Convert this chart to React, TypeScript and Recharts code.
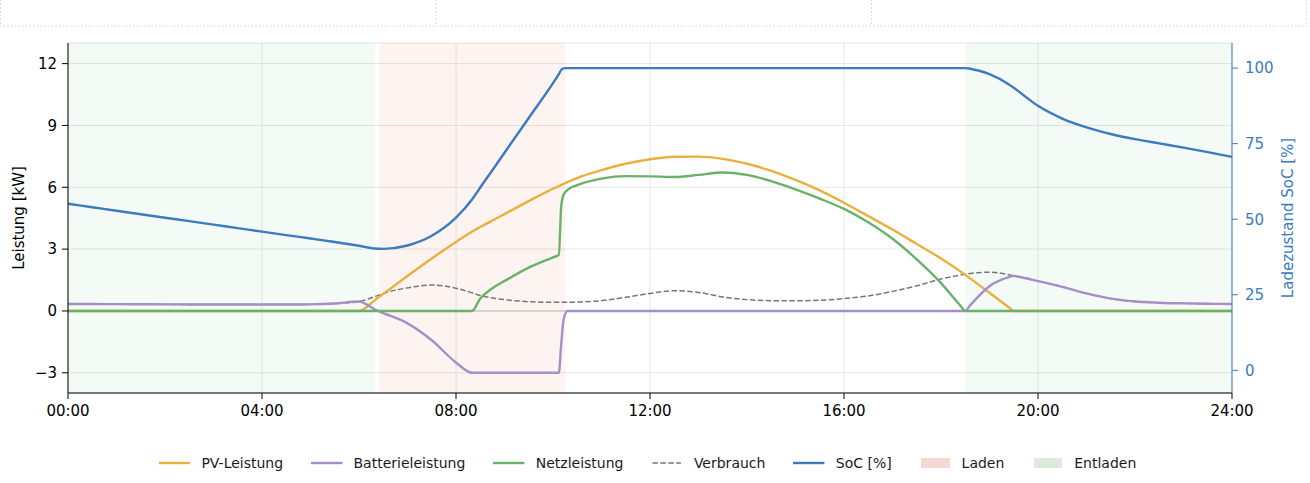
import { LineChart, Line, XAxis, YAxis, CartesianGrid, ReferenceArea, ReferenceLine } from 'recharts';

// Tagesverlauf (Stunden) und Messreihen
const hours = [
  0, 0.5, 1, 1.5, 2, 2.5, 3, 3.5, 4, 4.5, 5, 5.5, 6,
  6.33, 6.5, 7, 7.5, 8, 8.33, 8.5, 8.75, 9, 9.5, 10, 10.12, 10.17, 10.22, 10.3,
  10.5, 11, 11.5, 12, 12.5, 13, 13.5, 14, 14.5, 15, 15.5, 16, 16.5, 17, 17.5, 18,
  18.4, 18.5, 18.6, 19, 19.4, 19.5, 19.6,
  20, 20.5, 21, 21.5, 22, 22.5, 23, 23.5, 24,
];

const pvPower = [
  0, 0, 0, 0, 0, 0, 0, 0, 0, 0, 0, 0, 0,
  0.53, 0.83, 1.7, 2.55, 3.35, 3.84, 4.07, 4.39, 4.7, 5.33, 5.93, 6.06, 6.115, 6.17, 6.25,
  6.45, 6.83, 7.14, 7.36, 7.48, 7.49, 7.38, 7.14, 6.8, 6.36, 5.85, 5.25, 4.6, 3.95, 3.25, 2.55,
  1.92, 1.75, 1.58, 0.88, 0.17, 0, 0,
  0, 0, 0, 0, 0, 0, 0, 0, 0,
];

const batteryPower = [
  0.34, 0.335, 0.33, 0.325, 0.32, 0.315, 0.31, 0.31, 0.31, 0.315, 0.32, 0.36, 0.46,
  0.07, -0.1, -0.6, -1.42, -2.5, -3, -3, -3, -3, -3, -3, -3, -1.6, -0.4, 0,
  0, 0, 0, 0, 0, 0, 0, 0, 0, 0, 0, 0, 0, 0, 0, 0,
  0, 0, 0.27, 1.2, 1.64, 1.7, 1.66,
  1.45, 1.17, 0.85, 0.6, 0.46, 0.4, 0.37, 0.35, 0.34,
];

const gridPower = [
  0, 0, 0, 0, 0, 0, 0, 0, 0, 0, 0, 0, 0,
  0, 0, 0, 0, 0, 0, 0.6, 1.1, 1.45, 2.1, 2.6, 2.72, 5.1, 5.65, 5.87,
  6.1, 6.42, 6.54, 6.53, 6.5, 6.6, 6.72, 6.6, 6.3, 5.9, 5.45, 4.95, 4.3, 3.5, 2.5, 1.35,
  0.26, 0, 0, 0, 0, 0, 0,
  0, 0, 0, 0, 0, 0, 0, 0, 0,
];

const consumption = [
  0.34, 0.335, 0.33, 0.325, 0.32, 0.315, 0.31, 0.31, 0.31, 0.315, 0.32, 0.36, 0.46,
  0.7, 0.85, 1.12, 1.26, 1.1, 0.88, 0.75, 0.63, 0.55, 0.45, 0.42, 0.42, 0.42, 0.42, 0.42,
  0.43, 0.5, 0.66, 0.85, 0.98, 0.9, 0.68, 0.55, 0.5, 0.49, 0.52, 0.6, 0.73, 0.95, 1.22, 1.55,
  1.74, 1.78, 1.82, 1.88, 1.76, 1.7, 1.66,
  1.45, 1.17, 0.85, 0.6, 0.46, 0.4, 0.37, 0.35, 0.34,
];

const soc = [
  55.1, 53.95, 52.8, 51.65, 50.5, 49.35, 48.2, 47.05, 45.9, 44.75, 43.6, 42.45, 41.2,
  40.3, 40.2, 41.3, 44.5, 50.5, 56.5, 60.5, 66.2, 72, 83.5, 95, 98, 99.4, 99.9, 100,
  100, 100, 100, 100, 100, 100, 100, 100, 100, 100, 100, 100, 100, 100, 100, 100,
  100, 100, 99.8, 98, 94.6, 93.5, 92.3,
  87.5, 83.3, 80.4, 78.2, 76.5, 75.1, 73.7, 72.2, 70.6,
];

const chargeWindows = [[6.417, 10.25]];
const dischargeWindows = [[0, 6.333], [18.5, 24]];

const timeTicks = [0, 4, 8, 12, 16, 20, 24];
const kwTicks = [-3, 0, 3, 6, 9, 12];
const socTicks = [0, 25, 50, 75, 100];

const data = hours.map((t, i) => ({
  t,
  pv: pvPower[i],
  battery: batteryPower[i],
  grid: gridPower[i],
  load: consumption[i],
  soc: soc[i],
}));

const COLORS = {
  pv: '#e9b03d',
  battery: '#a48fc8',
  grid: '#6ab16a',
  load: '#777777',
  soc: '#3b7bbf',
  charge: '#f7d9d3',
  discharge: '#dcebdb',
};

const legendItems = [
  { name: 'PV-Leistung', color: COLORS.pv, kind: 'line' },
  { name: 'Batterieleistung', color: COLORS.battery, kind: 'line' },
  { name: 'Netzleistung', color: COLORS.grid, kind: 'line' },
  { name: 'Verbrauch', color: COLORS.load, kind: 'dash' },
  { name: 'SoC [%]', color: COLORS.soc, kind: 'line' },
  { name: 'Laden', color: COLORS.charge, kind: 'patch' },
  { name: 'Entladen', color: COLORS.discharge, kind: 'patch' },
];

const FONT = '"DejaVu Sans", sans-serif';
const LW = 2.4;

const fmtHour = (h: number) => `${String(h).padStart(2, '0')}:00`;
const fmtKw = (v: number) => (v < 0 ? `\u2212${-v}` : `${v}`);

const axisTitle = (text: string, dx: number, color: string) => (props: any) => {
  const vb = props.viewBox || {};
  const x = vb.x + dx;
  const y = vb.y + vb.height / 2;
  return (
    <text
      x={x}
      y={y}
      transform={`rotate(-90 ${x} ${y})`}
      textAnchor="middle"
      dominantBaseline="central"
      fontSize={15}
      fill={color}
      fontFamily={FONT}
    >
      {text}
    </text>
  );
};

function LegendRow() {
  return (
    <div
      style={{
        position: 'absolute',
        top: 453,
        left: 159,
        height: 20,
        display: 'flex',
        alignItems: 'center',
        fontFamily: FONT,
        fontSize: 14,
        color: '#1a1a1a',
        whiteSpace: 'nowrap',
      }}
    >
      {legendItems.map((it, i) => (
        <div key={it.name} style={{ display: 'flex', alignItems: 'center', marginRight: i < legendItems.length - 1 ? 28 : 0 }}>
          {it.kind === 'patch' ? (
            <div style={{ width: 28.3, height: 10, background: it.color, marginLeft: 1.6, marginRight: 12 }} />
          ) : (
            <svg width={31.4} height={10} style={{ marginRight: 11 }}>
              <line
                x1={it.kind === 'dash' ? 1.5 : 0}
                x2={it.kind === 'dash' ? 29.9 : 31.4}
                y1={5}
                y2={5}
                stroke={it.color}
                strokeWidth={it.kind === 'dash' ? 1.5 : LW}
                strokeDasharray={it.kind === 'dash' ? '5.5 2.4' : undefined}
              />
            </svg>
          )}
          <span>{it.name}</span>
        </div>
      ))}
    </div>
  );
}

function TopFrame() {
  const cells = [0.5, 436, 871.5, 1306.5];
  return (
    <svg width={1310} height={30} style={{ position: 'absolute', top: 0, left: 0 }}>
      <line x1={0} x2={1310} y1={26} y2={26} stroke="#cccccc" strokeDasharray="1.3 2.4" />
      {cells.map((x) => (
        <line key={x} x1={x} x2={x} y1={0} y2={26} stroke="#cccccc" strokeDasharray="1.3 2.4" />
      ))}
    </svg>
  );
}

export default function App() {
  return (
    <div style={{ position: 'absolute', top: 0, left: 0, width: 1310, height: 483, background: '#fff' }}>
      <TopFrame />
      <div style={{ position: 'absolute', top: 0, left: 0 }}>
        <LineChart
          width={1310}
          height={420}
          data={data}
          margin={{ top: 43, right: 0, bottom: 0, left: 0 }}
          style={{ fontFamily: FONT }}
        >
          <CartesianGrid yAxisId="kw" stroke="#e6e6e6" strokeWidth={1} />
          {dischargeWindows.map(([a, b]) => (
            <ReferenceArea key={`d${a}`} x1={a} x2={b} yAxisId="kw" fill="#4caf50" fillOpacity={0.06} stroke="none" />
          ))}
          {chargeWindows.map(([a, b]) => (
            <ReferenceArea key={`c${a}`} x1={a} x2={b} yAxisId="kw" fill="#e05a3c" fillOpacity={0.07} stroke="none" />
          ))}
          <ReferenceLine y={0} yAxisId="kw" stroke="#bdbdbd" strokeWidth={1} />
          <XAxis
            dataKey="t"
            type="number"
            domain={[0, 24]}
            ticks={timeTicks}
            tickFormatter={fmtHour}
            allowDataOverflow
            height={27}
            tickSize={6}
            tickMargin={6}
            stroke="#000"
            tick={{ fill: '#000', fontSize: 15 }}
          />
          <YAxis
            yAxisId="kw"
            orientation="left"
            width={68}
            domain={[-3.98, 13]}
            ticks={kwTicks}
            tickFormatter={fmtKw}
            allowDataOverflow
            tickSize={6}
            tickMargin={5}
            stroke="#000"
            tick={{ fill: '#000', fontSize: 15 }}
            label={axisTitle('Leistung [kW]', 19, '#000')}
          />
          <YAxis
            yAxisId="soc"
            orientation="right"
            width={78}
            domain={[-7.5, 108.3]}
            ticks={socTicks}
            allowDataOverflow
            tickSize={6}
            tickMargin={7}
            stroke={COLORS.soc}
            tick={{ fill: COLORS.soc, fontSize: 15 }}
            label={axisTitle('Ladezustand SoC [%]', 55.7, COLORS.soc)}
          />
          <Line yAxisId="kw" type="monotone" dataKey="load" stroke={COLORS.load} strokeWidth={1.5} strokeDasharray="5.5 2.4" dot={false} isAnimationActive={false} />
          <Line yAxisId="kw" type="monotone" dataKey="pv" stroke={COLORS.pv} strokeWidth={LW} dot={false} isAnimationActive={false} />
          <Line yAxisId="kw" type="monotone" dataKey="battery" stroke={COLORS.battery} strokeWidth={LW} dot={false} isAnimationActive={false} />
          <Line yAxisId="kw" type="monotone" dataKey="grid" stroke={COLORS.grid} strokeWidth={LW} dot={false} isAnimationActive={false} />
          <Line yAxisId="soc" type="monotone" dataKey="soc" stroke={COLORS.soc} strokeWidth={LW} dot={false} isAnimationActive={false} />
        </LineChart>
      </div>
      <LegendRow />
    </div>
  );
}
